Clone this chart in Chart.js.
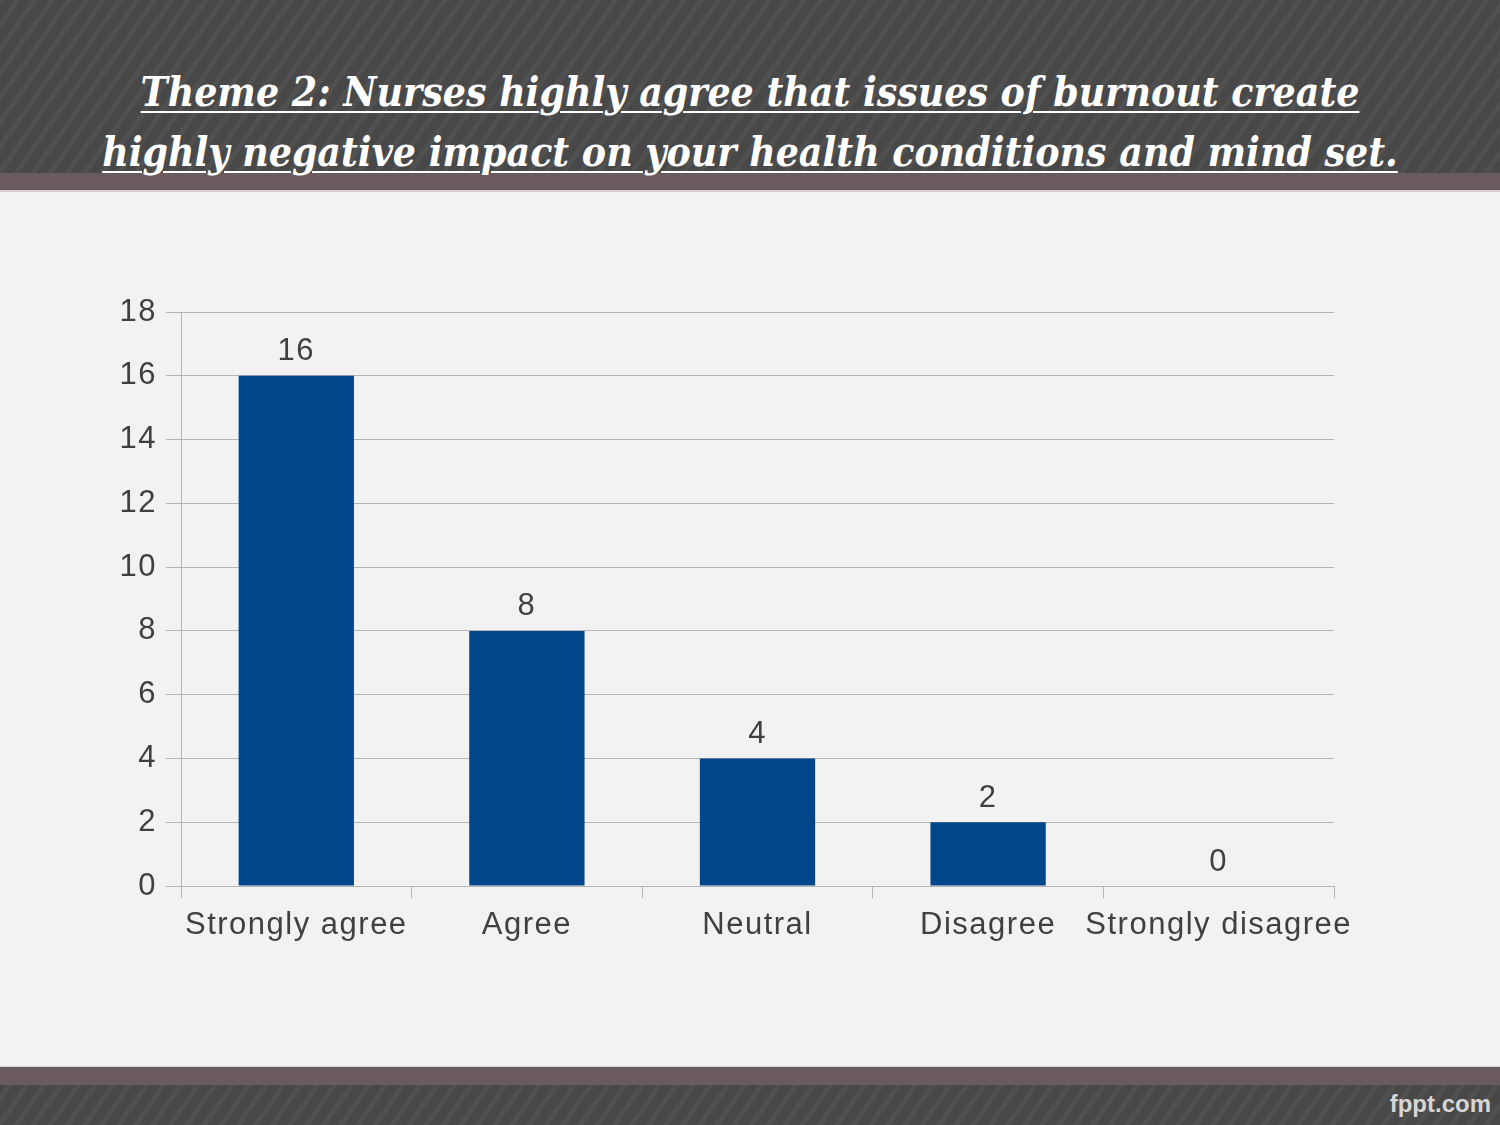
<!DOCTYPE html>
<html>
<head>
<meta charset="utf-8">
<script src="https://cdn.jsdelivr.net/npm/chart.js@4.4.0/dist/chart.umd.min.js"></script>
<style>
    html, body { margin: 0; padding: 0; }
    body {
        width: 1500px;
        height: 1125px;
        position: relative;
        overflow: hidden;
        background: #f2f2f2;
    }
    .stripes {
        position: absolute;
        left: 0;
        width: 1500px;
        background: repeating-linear-gradient(-55deg, #484848 0px, #484848 9px, #505050 9px, #505050 14px);
    }
    #header { top: 0; height: 173px; }
    #footer { top: 1085px; height: 40px; }
    .band {
        position: absolute;
        left: 0;
        width: 1500px;
        background: #6b5b5e;
        border-bottom: 2px solid #d9cfd1;
    }
    #band-top { top: 173px; height: 17px; }
    #band-bottom { top: 1066px; height: 19px; border-bottom: none; border-top: 1px solid #d9cfd1; }
    #title {
        position: absolute;
        top: 62px;
        left: 0;
        width: 1500px;
        text-align: center;
        color: #ffffff;
        font-family: "DejaVu Serif Condensed", "DejaVu Serif", serif;
        font-stretch: condensed;
        font-weight: bold;
        font-style: italic;
        font-size: 40.5px;
        line-height: 60px;
        text-decoration: underline;
        text-decoration-thickness: 2px;
        text-underline-offset: 5px;
    }
    #logo {
        position: absolute;
        right: 9px;
        top: 1090px;
        color: #d6d6d6;
        font-family: "Liberation Sans", Arial, sans-serif;
        font-weight: bold;
        font-size: 24px;
    }
    #chart-box {
        position: absolute;
        left: 0;
        top: 192px;
        width: 1500px;
        height: 874px;
    }
</style>
</head>
<body>
<div id="header" class="stripes"></div>
<div id="band-top" class="band"></div>
<div id="title">Theme 2: Nurses highly agree that issues of burnout create<br>highly negative impact on your health conditions and mind set.</div>
<div id="chart-box"><canvas id="chart" width="1500" height="874"></canvas></div>
<div id="band-bottom" class="band"></div>
<div id="footer" class="stripes"></div>
<div id="logo">fppt.com</div>

<script>
// Chart data
const categories = ['Strongly agree', 'Agree', 'Neutral', 'Disagree', 'Strongly disagree'];
const responses = [16, 8, 4, 2, 0];
const yTicks = [0, 2, 4, 6, 8, 10, 12, 14, 16, 18];

const textColor = '#404040';
const gridColor = '#b5b5b5';
const barColor = '#00468a';
const baseFont = { family: '"Liberation Sans", Arial, sans-serif', size: 31 };
const letterGap = '1.5px';

// Slightly wider letter spacing like the original rendering
const spacingPlugin = {
    id: 'spacing',
    beforeDraw(chart) {
        chart.ctx.letterSpacing = letterGap;
    }
};

// Value labels above each bar
const valueLabels = {
    id: 'valueLabels',
    afterDatasetsDraw(chart) {
        const ctx = chart.ctx;
        const meta = chart.getDatasetMeta(0);
        ctx.save();
        ctx.letterSpacing = letterGap;
        ctx.font = `${baseFont.size}px ${baseFont.family}`;
        ctx.fillStyle = textColor;
        ctx.textAlign = 'center';
        ctx.textBaseline = 'middle';
        meta.data.forEach((bar, i) => {
            ctx.fillText(String(responses[i]), bar.x, bar.y - 24);
        });
        ctx.restore();
    }
};

const ctx = document.getElementById('chart').getContext('2d');

new Chart(ctx, {
    type: 'bar',
    data: {
        labels: categories,
        datasets: [{
            label: 'Responses',
            data: responses,
            backgroundColor: barColor,
            borderWidth: 0,
            categoryPercentage: 1,
            barPercentage: 0.5
        }]
    },
    options: {
        responsive: false,
        animation: false,
        layout: {
            padding: { left: 0, right: 166, top: 120, bottom: 120 }
        },
        plugins: {
            legend: { display: false },
            tooltip: { enabled: false }
        },
        scales: {
            x: {
                offset: true,
                afterFit(scale) { scale.height = 60; },
                grid: {
                    offset: true,
                    drawOnChartArea: true,
                    color: c => (c.index === categories.length ? gridColor : 'rgba(0,0,0,0)'),
                    tickColor: gridColor,
                    tickLength: 12,
                    lineWidth: 1
                },
                border: { color: gridColor, width: 1 },
                ticks: {
                    color: textColor,
                    font: baseFont,
                    padding: 9,
                    maxRotation: 0,
                    autoSkip: false
                }
            },
            y: {
                min: yTicks[0],
                max: yTicks[yTicks.length - 1],
                afterFit(scale) { scale.width = 181; },
                afterBuildTicks(scale) {
                    scale.ticks = yTicks.map(v => ({ value: v }));
                },
                grid: {
                    color: gridColor,
                    tickColor: gridColor,
                    tickLength: 15,
                    lineWidth: 1
                },
                border: { color: gridColor, width: 1 },
                ticks: {
                    color: textColor,
                    font: baseFont,
                    padding: 9
                }
            }
        }
    },
    plugins: [spacingPlugin, valueLabels]
});
</script>
</body>
</html>
